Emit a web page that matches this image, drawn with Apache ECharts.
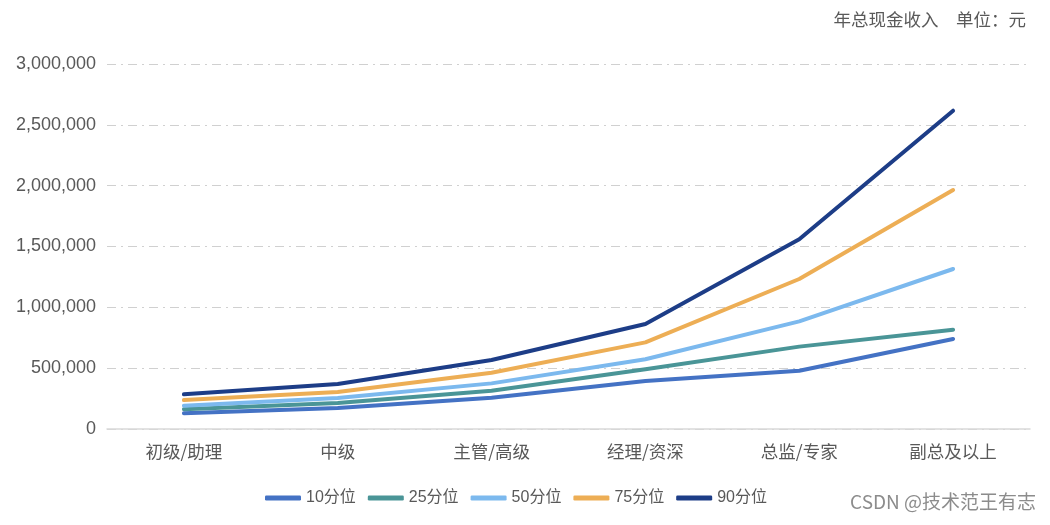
<!DOCTYPE html>
<html><head><meta charset="utf-8">
<script src="https://cdn.jsdelivr.net/npm/echarts@6/dist/echarts.min.js"></script>
<style>html,body{margin:0;padding:0;background:#fff}#c{width:1050px;height:525px}</style>
</head><body><div id="c"></div>
<script>
const categories = ['初级/助理','中级','主管/高级','经理/资深','总监/专家','副总及以上'];
const seriesNames = ['10分位','25分位','50分位','75分位','90分位'];
const p10 = [129000, 173000, 257000, 395000, 479000, 740000];
const p25 = [162000, 214000, 315000, 491000, 677000, 816000];
const p50 = [192000, 255000, 375000, 573000, 885000, 1315000];
const p75 = [238000, 304000, 463000, 712000, 1233000, 1964000];
const p90 = [285000, 370000, 567000, 863000, 1559000, 2616000];
const colors = ['#4472c4','#4a9597','#7cb9ee','#edae55','#1d3d87'];
const FONT = '"Liberation Sans","Noto Sans CJK SC",sans-serif';
const data = [p10,p25,p50,p75,p90];
const chart = echarts.init(document.getElementById('c'));
chart.setOption({
  animation:false,
  textStyle:{fontFamily:FONT},
  grid:{left:107,right:20,top:64,bottom:96},
  graphic:[
    {type:'text',right:24,top:11,style:{text:'年总现金收入　单位：元',fill:'#595959',font:'17.5px "Noto Sans CJK SC",sans-serif'}},
    {type:'text',right:14,top:492,style:{text:'CSDN @技术范王有志',fill:'#8c8c8c',font:'19px "Noto Sans CJK SC",sans-serif'}}
  ],
  legend:{
    bottom:14,left:260,
    itemWidth:36,itemHeight:5,itemGap:12,icon:'roundRect',
    textStyle:{fontSize:16,color:'#595959',fontFamily:FONT},
    data:seriesNames
  },
  xAxis:{
    type:'category',data:categories,boundaryGap:true,
    axisLine:{lineStyle:{color:'#d9d9d9',width:1.5}},
    axisTick:{show:false},
    axisLabel:{fontSize:17.5,color:'#595959',margin:14,fontFamily:'"Noto Sans CJK SC",sans-serif'}
  },
  yAxis:{
    type:'value',min:0,max:3000000,interval:500000,
    axisLine:{show:false},axisTick:{show:false},
    axisLabel:{fontSize:18,color:'#595959',margin:11,formatter:v=>v.toLocaleString('en-US')},
    splitLine:{lineStyle:{color:'#d0d0d0',width:1,type:[9,5,2,5]}}
  },
  series: seriesNames.map((n,i)=>({
    name:n,type:'line',data:data[i],showSymbol:false,symbol:'none',
    lineStyle:{width:4,color:colors[i],cap:'round',join:'round'},
    itemStyle:{color:colors[i]}
  }))
});
</script></body></html>
